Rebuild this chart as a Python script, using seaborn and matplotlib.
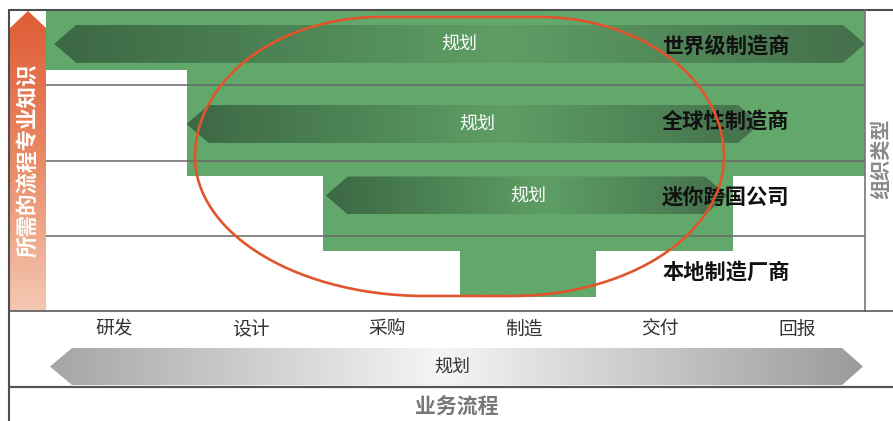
import numpy as np
import matplotlib
matplotlib.use('Agg')
import matplotlib.pyplot as plt
import seaborn as sns
from matplotlib.patches import Polygon
from matplotlib.colors import LinearSegmentedColormap

# ---------------- data ----------------
processes = ['研发', '设计', '采购', '制造', '交付', '回报']
org_types = ['世界级制造商', '全球性制造商', '迷你跨国公司', '本地制造厂商']
span_start = [0.0, 1.03, 2.03, 3.03]      # column units
span_end = [6.0, 6.0, 5.03, 4.03]
area_depth = [0.80, 2.21, 3.20, 3.81]     # row units from top
plan_label = '规划'
plan_start = [0.06, 1.03, 2.05]
plan_end = [6.0, 5.23, 4.99]
plan_row_center = [0.45, 1.515, 2.465]
plan_text_x = [3.03, 3.16, 3.53]
y_title = '所需的流程专业知识'
y2_title = '组织类型'
x_title = '业务流程'

# ---------------- style ----------------
sns.set_theme(style='white')
plt.rcParams['font.family'] = ['Noto Sans CJK SC', 'DejaVu Sans']

GREEN = '#62A86B'
W, H = 893, 421
L, R, T, B = 46, 865, 10, 311

fig = plt.figure(figsize=(W / 100, H / 100), dpi=100)
fig.patch.set_facecolor('white')
ax = fig.add_axes([L / W, 1 - B / H, (R - L) / W, (B - T) / H])
ax.set_facecolor('white')

# green stepped area: bars hanging from the top
for s, e, d in zip(span_start, span_end, area_depth):
    ax.bar((s + e) / 2, d, width=e - s, bottom=0, color=GREEN, linewidth=0, zorder=1)

for i in range(1, 4):
    ax.axhline(i, color='#666666', lw=1.1, zorder=2)

# planning arrows with gradient
green_cmap = LinearSegmentedColormap.from_list(
    'g', [(0, '#3C6844'), (0.55, '#5E9E65'), (1.0, '#44704B')])
tip_w = 22 / 136.5
half_h = 19 / 75.25
grad_h = np.linspace(0, 1, 256).reshape(1, -1)
for x0, x1, yc in zip(plan_start, plan_end, plan_row_center):
    pts = [(x0, yc), (x0 + tip_w, yc - half_h), (x1 - tip_w, yc - half_h),
           (x1, yc), (x1 - tip_w, yc + half_h), (x0 + tip_w, yc + half_h)]
    poly = Polygon(pts, closed=True, fc='none', ec='none', transform=ax.transData)
    ax.add_patch(poly)
    im = ax.imshow(grad_h, cmap=green_cmap, extent=[x0, x1, yc + half_h, yc - half_h],
                   aspect='auto', zorder=3, interpolation='bilinear')
    im.set_clip_path(poly)
for x, yc in zip(plan_text_x, plan_row_center):
    ax.text(x, yc, plan_label, color='white', fontsize=13, ha='center', va='center', zorder=4)

for i, name in enumerate(org_types):
    ax.text(4.513, i + 0.48, name, ha='left', va='center', fontsize=15.3,
            fontweight='bold', color='#111111', zorder=5)

ax.set_xlim(0, 6)
ax.set_ylim(4, 0)
ax.set_xticks(np.arange(len(processes)) + 0.5, processes)
ax.set_yticks([])
ax.tick_params(axis='x', length=0, pad=17, labelsize=13.5, labelcolor='#333333')
for lab in ax.get_xticklabels():
    lab.set_verticalalignment('baseline')
for sp in ax.spines.values():
    sp.set_visible(False)

# ---------------- overlay (frame & decorations, pixel coords) ----------------
ov = fig.add_axes([0, 0, 1, 1], zorder=5)
ov.patch.set_alpha(0)

# orange vertical arrow
orange_cmap = LinearSegmentedColormap.from_list('o', ['#DE5C34', '#E98A66', '#F4C8B3'])
opoly = Polygon([(10, 311), (10, 28), (28, 11), (46, 28), (46, 311)], closed=True,
                fc='none', ec='none', transform=ov.transData)
ov.add_patch(opoly)
im = ov.imshow(np.linspace(0, 1, 256).reshape(-1, 1), cmap=orange_cmap,
               extent=[10, 46, 311, 11], aspect='auto', origin='upper', zorder=1)
im.set_clip_path(opoly)

# grey process arrow
grey_cmap = LinearSegmentedColormap.from_list(
    'gr', [(0, '#A4A5A7'), (0.48, '#F5F5F5'), (1.0, '#9A9B9D')])
gpoly = Polygon([(50, 366.5), (72, 348), (842, 348), (863, 366.5), (842, 385), (72, 385)],
                closed=True, fc='none', ec='none', transform=ov.transData)
ov.add_patch(gpoly)
im = ov.imshow(grad_h, cmap=grey_cmap, extent=[50, 863, 385, 348], aspect='auto', zorder=1)
im.set_clip_path(gpoly)

# frame lines
ov.plot([9, 893], [10, 10], color='#4d4d4d', lw=1.5, zorder=3)
ov.plot([9, 9], [10, 421], color='#4d4d4d', lw=1.5, zorder=3)
ov.plot([865, 865], [10, 311], color='#777777', lw=1.2, zorder=3)
ov.plot([9, 893], [311, 311], color='#5a5a5a', lw=1.2, zorder=3)
ov.plot([9, 893], [387, 387], color='#555555', lw=1.6, zorder=3)

# red highlight outline (rounded shape built from four elliptical corners)
def quarter(cx, cy, rx, ry, t0, t1, n=60):
    t = np.linspace(t0, t1, n)
    return cx + rx * np.cos(t), cy - ry * np.sin(t)

segs = [quarter(380, 157, 185, 140, np.pi, np.pi / 2),
        quarter(540, 157, 184, 140, np.pi / 2, 0),
        quarter(512, 157, 212, 139, 0, -np.pi / 2),
        quarter(425, 157, 230, 139, -np.pi / 2, -np.pi)]
ex = np.concatenate([s[0] for s in segs])
ey = np.concatenate([s[1] for s in segs])
sns.lineplot(x=ex, y=ey, sort=False, estimator=None, ax=ov, color='#E0552B', lw=1.9, zorder=4)

# texts
ov.text(28, 160, y_title, rotation=90, color='white', fontsize=15.5, fontweight='bold',
        ha='center', va='center', zorder=5)
ov.text(881, 159, y2_title, rotation=90, color='#8a8a8a', fontsize=14.5, fontweight='bold',
        ha='center', va='center', zorder=5)
ov.text(457, 406, x_title, color='#777777', fontsize=15, fontweight='bold',
        ha='center', va='center', zorder=5)
ov.text(452, 367, plan_label, color='#333333', fontsize=13, ha='center', va='center', zorder=5)

ov.set_xlim(0, W)
ov.set_ylim(H, 0)
ov.axis('off')

fig.savefig('out.png', dpi=100)
